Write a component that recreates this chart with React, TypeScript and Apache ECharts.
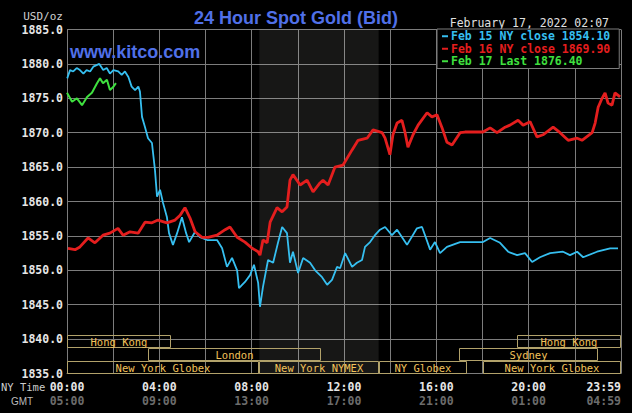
import React, { useEffect, useRef } from "react";
import * as echarts from "echarts";

// ---- data ----
const NY_TICKS = ["00:00", "04:00", "08:00", "12:00", "16:00", "20:00", "23:59"];
const GMT_TICKS = ["05:00", "09:00", "13:00", "17:00", "21:00", "01:00", "04:59"];
const Y_MIN = 1835;
const Y_MAX = 1885;
const Y_STEP = 5;
const X_MIN = 0;
const X_MAX = 24;
const X_STEP = 2;

const SERIES_NAMES = [
  "Feb 15 NY close 1854.10",
  "Feb 16 NY close 1869.90",
  "Feb 17 Last 1876.40",
];

// [hour (NY time), price]
const feb15: [number, number][] = [
  [0.01, 1877.9], [0.13, 1879.1], [0.27, 1878.9], [0.42, 1879.4], [0.56, 1879.1], [0.71, 1878.6],
  [0.85, 1879.1], [1.0, 1878.9], [1.14, 1879.6], [1.4, 1880.0], [1.57, 1879.1], [1.72, 1879.4],
  [1.86, 1878.6], [2.01, 1879.1], [2.22, 1878.9], [2.37, 1878.4], [2.51, 1878.9], [2.66, 1878.1],
  [2.8, 1876.7], [2.95, 1876.2], [3.09, 1876.7], [3.16, 1876.0], [3.25, 1872.3], [3.38, 1870.8],
  [3.51, 1869.2], [3.68, 1868.5], [3.81, 1864.6], [3.9, 1860.7], [4.03, 1861.7], [4.16, 1859.8],
  [4.33, 1857.7], [4.42, 1855.4], [4.59, 1853.7], [4.77, 1855.4], [4.98, 1857.7], [5.16, 1855.4],
  [5.29, 1854.1], [5.55, 1855.6], [5.76, 1854.8], [6.07, 1854.4], [6.5, 1854.4], [6.72, 1853.2],
  [6.93, 1850.5], [7.15, 1851.8], [7.37, 1850.0], [7.45, 1847.4], [7.71, 1848.3], [7.93, 1849.3],
  [8.1, 1850.8], [8.28, 1848.2], [8.36, 1844.7], [8.49, 1847.6], [8.71, 1851.5], [8.93, 1851.1],
  [9.14, 1854.0], [9.32, 1856.3], [9.53, 1855.4], [9.66, 1851.1], [9.79, 1852.7], [10.01, 1849.6],
  [10.23, 1851.8], [10.53, 1851.1], [10.75, 1850.0], [11.05, 1849.0], [11.27, 1847.9], [11.48, 1848.6],
  [11.7, 1850.5], [11.83, 1850.3], [12.05, 1852.5], [12.35, 1850.5], [12.56, 1851.1], [12.78, 1851.5],
  [12.91, 1853.4], [13.13, 1854.1], [13.34, 1855.1], [13.56, 1855.9], [13.78, 1856.3], [14.08, 1855.1],
  [14.3, 1855.9], [14.73, 1853.7], [15.16, 1856.1], [15.38, 1856.3], [15.51, 1855.1], [15.73, 1853.0],
  [15.94, 1854.1], [16.16, 1852.5], [16.46, 1853.4], [17.03, 1854.1], [18.02, 1854.1], [18.33, 1854.7],
  [18.76, 1854.0], [19.11, 1852.7], [19.5, 1852.2], [19.84, 1852.5], [20.15, 1851.2], [20.49, 1851.9],
  [20.93, 1852.5], [21.49, 1852.7], [21.79, 1852.2], [22.1, 1852.7], [22.36, 1851.9], [22.96, 1852.7],
  [23.53, 1853.2], [23.87, 1853.2],
];

const feb16: [number, number][] = [
  [0.04, 1853.2], [0.35, 1853.0], [0.56, 1853.4], [0.91, 1854.7], [1.21, 1854.0], [1.56, 1855.1],
  [1.86, 1855.4], [2.21, 1856.1], [2.43, 1855.1], [2.73, 1855.6], [3.08, 1855.4], [3.38, 1857.0],
  [3.68, 1856.9], [3.94, 1857.3], [4.33, 1856.9], [4.68, 1857.3], [4.9, 1858.0], [5.11, 1859.1],
  [5.33, 1857.6], [5.55, 1855.6], [5.85, 1854.8], [6.11, 1854.8], [6.5, 1855.1], [6.85, 1855.9],
  [7.06, 1856.3], [7.37, 1854.8], [7.71, 1854.1], [8.02, 1853.2], [8.28, 1852.7], [8.36, 1852.2],
  [8.49, 1854.4], [8.67, 1854.0], [8.8, 1857.0], [9.1, 1859.1], [9.32, 1858.5], [9.53, 1859.2],
  [9.66, 1863.1], [9.79, 1863.9], [10.1, 1862.4], [10.4, 1863.1], [10.66, 1861.4], [10.96, 1862.7],
  [11.09, 1863.1], [11.31, 1862.4], [11.61, 1865.0], [11.96, 1865.3], [12.35, 1867.5], [12.61, 1868.9],
  [13.0, 1869.2], [13.26, 1870.4], [13.65, 1870.0], [13.78, 1869.2], [13.99, 1866.8], [14.12, 1869.7],
  [14.3, 1871.4], [14.51, 1871.8], [14.64, 1870.1], [14.77, 1867.9], [14.99, 1869.7], [15.21, 1871.1],
  [15.6, 1872.9], [15.81, 1872.3], [16.03, 1872.6], [16.25, 1870.7], [16.46, 1868.6], [16.68, 1868.2],
  [17.03, 1870.0], [17.24, 1870.1], [18.02, 1870.1], [18.33, 1870.7], [18.63, 1870.0], [18.98, 1870.8],
  [19.19, 1871.1], [19.54, 1871.8], [19.76, 1871.1], [20.06, 1871.6], [20.36, 1869.4], [20.62, 1869.7],
  [21.06, 1870.8], [21.36, 1870.0], [21.71, 1868.9], [22.1, 1869.2], [22.31, 1868.9], [22.75, 1870.0],
  [22.88, 1871.4], [23.01, 1873.7], [23.18, 1875.0], [23.31, 1875.8], [23.44, 1874.3], [23.61, 1874.0],
  [23.74, 1875.8], [23.96, 1875.2],
];

const feb17: [number, number][] = [
  [0.0, 1875.8], [0.22, 1874.5], [0.43, 1875.0], [0.65, 1874.0], [0.87, 1875.2], [1.08, 1875.8],
  [1.3, 1877.2], [1.43, 1877.9], [1.56, 1877.2], [1.73, 1877.7], [1.86, 1876.2], [1.99, 1876.6],
  [2.12, 1877.2],
];

// trading sessions (NY hours)
const SESSION_NAMES = ["Hong Kong", "Hong Kong", "London", "Sydney", "New York Globex", "New York NYMEX", "NY Globex", "New York Globex"];
const SESSION_START = [0, 19.5, 3.5, 17.0, 0, 8.333, 13.5, 18.0];
const SESSION_END = [4.5, 24, 11.0, 23.0, 8.333, 13.5, 17.33, 24];
const SESSION_ROW = [0, 0, 1, 1, 2, 2, 2, 2];
const NYMEX_HOURS = [8.333, 13.5];

const BLUE = "#36bff0";
const RED = "#e41e1e";
const GREEN = "#3fe03f";
const GRID = "#7c7c7c";
const MONO = '"DejaVu Sans Mono", "Liberation Mono", monospace';
const SANS = '"Liberation Sans", Arial, sans-serif';

export default function App() {
  const ref = useRef<HTMLDivElement>(null);

  useEffect(() => {
    if (!ref.current) return;
    const chart = echarts.init(ref.current, undefined, { renderer: "svg" });

    const ROW_TOP = 1840.6;
    const ROW_H = (ROW_TOP - Y_MIN) / 3;

    const option: any = {
      animation: false,
      backgroundColor: "#000",
      grid: { left: 67, right: 11, top: 29.5, bottom: 39.5, containLabel: false },
      legend: {
        left: 437,
        top: 29,
        orient: "vertical",
        backgroundColor: "#000",
        borderColor: GRID,
        borderWidth: 1,
        borderRadius: 0,
        padding: [1, 9, 1, 5],
        itemGap: 0,
        itemWidth: 6,
        itemHeight: 2,
        icon: "rect",
        selectedMode: false,
        textStyle: { fontFamily: MONO, fontWeight: "bold", fontSize: 11.5, lineHeight: 12.5, padding: [0, 0, 0, -2] },
        data: [
          { name: SERIES_NAMES[0], textStyle: { color: BLUE } },
          { name: SERIES_NAMES[1], textStyle: { color: RED } },
          { name: SERIES_NAMES[2], textStyle: { color: GREEN } },
        ],
        z: 10,
      },
      xAxis: {
        type: "value",
        min: X_MIN,
        max: X_MAX,
        interval: X_STEP,
        axisLine: { show: true, lineStyle: { color: GRID, width: 1 } },
        axisTick: { show: false },
        splitLine: { show: true, lineStyle: { color: GRID, width: 1 } },
        axisLabel: {
          margin: 6,
          showMaxLabel: true,
          showMinLabel: true,
          alignMaxLabel: "right",
          formatter: (v: number) => {
            if (v % 4 !== 0) return "";
            const i = Math.round(v / 4);
            return `{a|${NY_TICKS[i]}}\n{b|${GMT_TICKS[i]}}`;
          },
          rich: {
            a: { fontFamily: MONO, fontWeight: "bold", fontSize: 11.5, color: "#e6e6e6", lineHeight: 14 },
            b: { fontFamily: MONO, fontWeight: "bold", fontSize: 11.5, color: "#6c6c6c", lineHeight: 14 },
          },
        },
      },
      yAxis: {
        type: "value",
        min: Y_MIN,
        max: Y_MAX,
        interval: Y_STEP,
        axisLine: { show: true, lineStyle: { color: GRID, width: 1 } },
        axisTick: { show: false },
        splitLine: { show: true, lineStyle: { color: GRID, width: 1 } },
        axisLabel: {
          margin: 4,
          color: "#e6e6e6",
          fontFamily: MONO,
          fontWeight: "bold",
          fontSize: 11.5,
          formatter: (v: number) => v.toFixed(1),
        },
      },
      graphic: [
        {
          type: "text",
          x: 296,
          y: 18,
          style: { text: "24 Hour Spot Gold (Bid)", fill: "#5070e8", font: `bold 18px ${SANS}`, align: "center", verticalAlign: "middle" },
        },
        {
          type: "text",
          x: 70,
          y: 52,
          z: 5,
          style: { text: "www.kitco.com", fill: "#5070e8", font: `bold 18px ${SANS}`, align: "left", verticalAlign: "middle" },
        },
        {
          type: "text",
          x: 609,
          y: 23,
          style: { text: "February 17, 2022 02:07", fill: "#e0e0e0", font: `11.5px ${MONO}`, align: "right", verticalAlign: "middle" },
        },
        {
          type: "text",
          x: 63,
          y: 16,
          style: { text: "USD/oz", fill: "#d0d0d0", font: `11px ${MONO}`, align: "right", verticalAlign: "middle" },
        },
        {
          type: "text",
          x: 1,
          y: 387,
          style: { text: "NY Time", fill: "#cccccc", font: `10.5px ${MONO}`, align: "left", verticalAlign: "middle" },
        },
        {
          type: "text",
          x: 11,
          y: 401,
          style: { text: "GMT", fill: "#bbbbbb", font: `10px ${SANS}`, align: "left", verticalAlign: "middle" },
        },
      ],
      series: [
        {
          type: "custom",
          name: "sessions",
          silent: true,
          z: 1,
          encode: { x: [0, 1], y: 2 },
          data: SESSION_START.map((s, i) => [s, SESSION_END[i], SESSION_ROW[i]]),
          renderItem: (params: any, api: any) => {
            const i = params.dataIndex;
            const r = api.value(2);
            const top = ROW_TOP - r * ROW_H;
            const bot = top - ROW_H;
            const p0 = api.coord([api.value(0), top]);
            const p1 = api.coord([api.value(1), bot]);
            const x0 = Math.round(p0[0]) + 0.5;
            const x1 = Math.round(p1[0]) - 0.5;
            const y0 = Math.round(p0[1]) + 0.5;
            const y1 = Math.round(p1[1]) - 0.5;
            return {
              type: "group",
              children: [
                {
                  type: "rect",
                  shape: { x: x0, y: y0, width: x1 - x0, height: y1 - y0 },
                  style: { fill: "none", stroke: "#b2a26a", lineWidth: 1 },
                },
                {
                  type: "text",
                  x: (x0 + x1) / 2,
                  y: (y0 + y1) / 2 + 0.5,
                  style: {
                    text: SESSION_NAMES[i],
                    fill: "#f2c25a",
                    font: `10.5px ${MONO}`,
                    align: "center",
                    verticalAlign: "middle",
                  },
                },
              ],
            };
          },
          markArea: {
            silent: true,
            itemStyle: { color: "rgba(255,255,240,0.09)" },
            data: [[{ xAxis: NYMEX_HOURS[0] }, { xAxis: NYMEX_HOURS[1] }]],
          },
        },
        {
          type: "line",
          name: SERIES_NAMES[0],
          data: feb15,
          showSymbol: false,
          color: BLUE,
          lineStyle: { color: BLUE, width: 1.8 },
          z: 3,
        },
        {
          type: "line",
          name: SERIES_NAMES[1],
          data: feb16,
          showSymbol: false,
          color: RED,
          lineStyle: { color: RED, width: 2.8 },
          z: 4,
        },
        {
          type: "line",
          name: SERIES_NAMES[2],
          data: feb17,
          showSymbol: false,
          color: GREEN,
          lineStyle: { color: GREEN, width: 2 },
          z: 5,
        },
      ],
    };

    chart.setOption(option);
    return () => chart.dispose();
  }, []);

  return (
    <div
      ref={ref}
      style={{ position: "fixed", left: 0, top: 0, width: 632, height: 413, background: "#000" }}
    />
  );
}
